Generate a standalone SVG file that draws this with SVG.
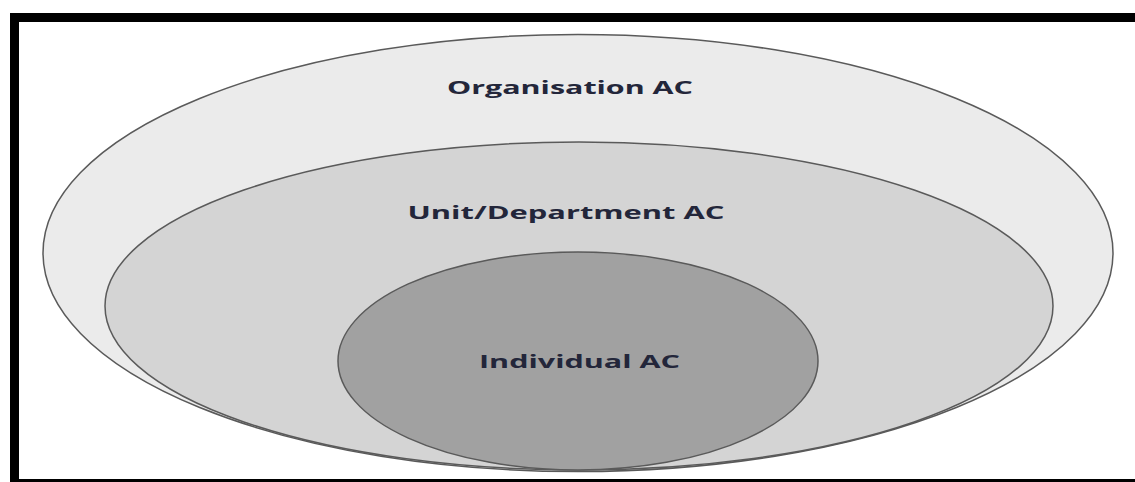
<svg xmlns="http://www.w3.org/2000/svg" width="1135" height="482" viewBox="0 0 1135 482">
<style>
.ring{stroke:#5a5a5a;stroke-width:1.5}
.lbl{font-family:"Open Sans","DejaVu Sans",sans-serif;font-weight:bold;font-size:17px;fill:#23263a;text-anchor:middle}
</style>
<rect x="0" y="0" width="1135" height="482" fill="#ffffff"/>
<rect x="14.5" y="17.5" width="1130" height="466" fill="#ffffff" stroke="#000000" stroke-width="9"/>
<g id="organisation">
<ellipse class="ring" cx="578" cy="253" rx="535" ry="218.5" fill="#ebebeb"/>
<text class="lbl" x="570" y="94" textLength="246" lengthAdjust="spacingAndGlyphs">Organisation AC</text>
</g>
<g id="unit">
<ellipse class="ring" cx="579" cy="306" rx="474" ry="164" fill="#d4d4d4"/>
<text class="lbl" x="566" y="219" textLength="317" lengthAdjust="spacingAndGlyphs">Unit/Department AC</text>
</g>
<g id="individual">
<ellipse class="ring" cx="578" cy="361" rx="240" ry="109" fill="#a1a1a1"/>
<text class="lbl" x="579.5" y="368" textLength="201" lengthAdjust="spacingAndGlyphs">Individual AC</text>
</g>
<g id="connectors"/>
</svg>
